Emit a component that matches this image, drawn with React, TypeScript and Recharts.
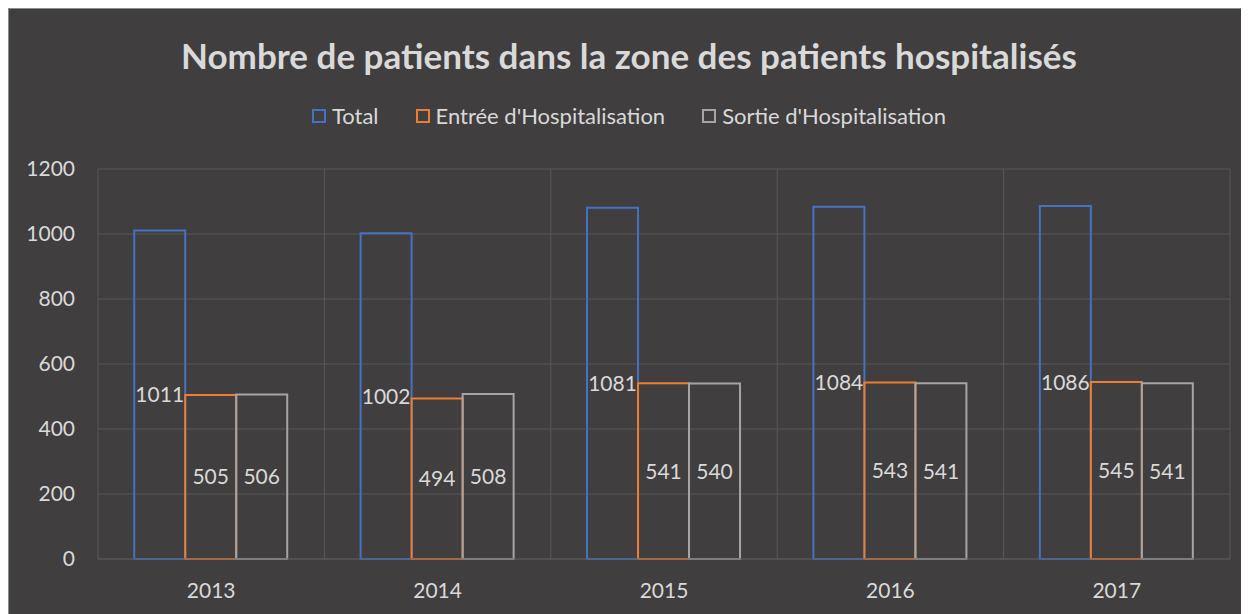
import React from "react";
import {
  BarChart,
  Bar,
  XAxis,
  YAxis,
  CartesianGrid,
  LabelList,
} from "recharts";

const years = ["2013", "2014", "2015", "2016", "2017"];
const total = [1011, 1002, 1081, 1084, 1086];
const entree = [505, 494, 541, 543, 545];
const sortie = [506, 508, 540, 541, 541];
const yTicks = [0, 200, 400, 600, 800, 1000, 1200];

const series = [
  { key: "total", name: "Total", color: "#4472C4" },
  { key: "entree", name: "Entrée d'Hospitalisation", color: "#ED7D31" },
  { key: "sortie", name: "Sortie d'Hospitalisation", color: "#A5A5A5" },
];

const data = years.map((year, i) => ({
  year,
  total: total[i],
  entree: entree[i],
  sortie: sortie[i],
}));

const BG = "#403E3F";
const TEXT = "#D9D9D9";
const GRID = "#595959";
const FONT = "Lato, 'Open Sans', sans-serif";

const LegendBox = () => (
  <div
    style={{
      position: "absolute",
      top: 94,
      left: 0,
      width: "100%",
      display: "flex",
      justifyContent: "center",
      gap: 37,
      fontSize: 22,
      lineHeight: "26px",
      color: TEXT,
      fontFamily: FONT,
    }}
  >
    {series.map((s) => (
      <div key={s.key} style={{ display: "flex", alignItems: "center" }}>
        <span
          style={{
            display: "inline-block",
            width: 10,
            height: 10,
            border: `2px solid ${s.color}`,
            marginRight: 6,
          }}
        />
        <span>{s.name}</span>
      </div>
    ))}
  </div>
);

export default function App() {
  const chartW = 1240;
  const chartH = 605;

  return (
    <div
      style={{
        position: "relative",
        width: chartW,
        height: chartH,
        background: BG,
        borderLeft: "1px solid #8c8c8c",
        borderTop: "1px solid #8c8c8c",
        fontFamily: FONT,
      }}
    >
      <div
        style={{
          position: "absolute",
          top: 26,
          left: 0,
          width: "100%",
          textAlign: "center",
          color: TEXT,
          fontSize: 35,
          lineHeight: "40px",
          fontWeight: 700,
        }}
      >
        Nombre de patients dans la zone des patients hospitalisés
      </div>
      <LegendBox />
      <BarChart
        width={chartW}
        height={chartH}
        data={data}
        margin={{ top: 160, right: 19, bottom: 0, left: 0 }}
        barCategoryGap="16%"
        barGap={0}
      >
        <CartesianGrid
          stroke={GRID}
          strokeWidth={1}
          verticalCoordinatesGenerator={({ offset }: any) =>
            years
              .map((_, i) => offset.left + (i * offset.width) / years.length)
              .concat(offset.left + offset.width)
          }
        />
        <XAxis
          dataKey="year"
          height={55}
          tickLine={false}
          tickSize={0}
          tickMargin={24}
          axisLine={{ stroke: GRID }}
          tick={{ fill: TEXT, fontSize: 21, fontFamily: FONT }}
        />
        <YAxis
          width={89}
          domain={[0, 1200]}
          ticks={yTicks}
          tickLine={false}
          axisLine={false}
          tickSize={0}
          tickMargin={23}
          tick={{ fill: TEXT, fontSize: 21, fontFamily: FONT }}
        />
        {series.map((s) => (
          <Bar
            key={s.key}
            dataKey={s.key}
            name={s.name}
            fill="transparent"
            stroke={s.color}
            strokeWidth={2}
            isAnimationActive={false}
          >
            <LabelList
              dataKey={s.key}
              position="center"
              fill={TEXT}
              fontSize={21}
              fontFamily={FONT}
            />
          </Bar>
        ))}
      </BarChart>
    </div>
  );
}
